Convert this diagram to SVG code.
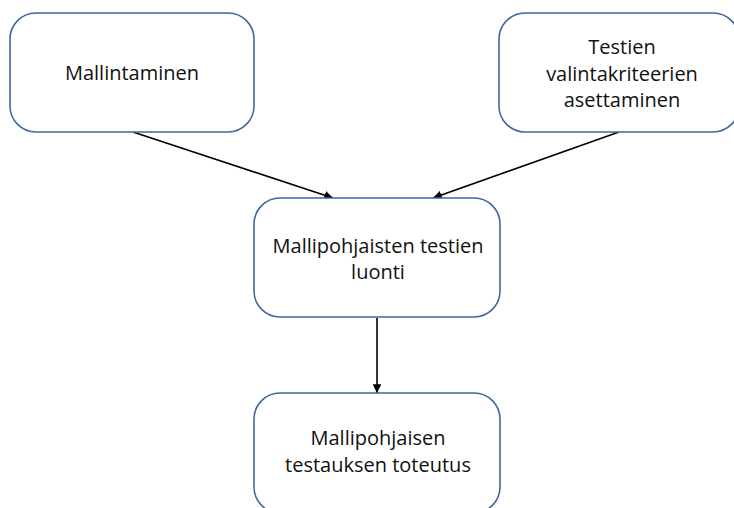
<svg xmlns="http://www.w3.org/2000/svg" width="734" height="508" viewBox="0 0 734 508">
<style>
.box{fill:#fff;stroke:#41679e;stroke-width:1.6}
.t{font-family:"Open Sans","Liberation Sans",sans-serif;font-size:20px;fill:#111;text-anchor:middle}
.c{stroke:#000;stroke-width:1.6;fill:none;marker-end:url(#ah)}
</style>
<defs>
<marker id="ah" viewBox="0 0 10 10" refX="10" refY="5" markerWidth="5.5" markerHeight="5.5" orient="auto" markerUnits="strokeWidth">
<path d="M0,0 L10,5 L0,10 z" fill="#000"/>
</marker>
</defs>
<rect width="734" height="508" fill="#fff"/>
<g id="connectors">
<line class="c" x1="133" y1="132" x2="333" y2="198"/>
<line class="c" x1="619" y1="132" x2="433" y2="198"/>
<line class="c" x1="377" y1="318" x2="377" y2="393"/>
</g>
<g id="n1">
<rect class="box" x="10" y="13" width="244" height="119" rx="26"/>
<text class="t" x="132" y="80">Mallintaminen</text>
</g>
<g id="n2">
<rect class="box" x="499" y="13" width="240" height="119" rx="26"/>
<text class="t" x="622" y="54">Testien</text>
<text class="t" x="622" y="81">valintakriteerien</text>
<text class="t" x="622" y="107">asettaminen</text>
</g>
<g id="n3">
<rect class="box" x="254" y="198" width="246" height="119" rx="26"/>
<text class="t" x="378" y="253">Mallipohjaisten testien</text>
<text class="t" x="378" y="279">luonti</text>
</g>
<g id="n4">
<rect class="box" x="254" y="393" width="246" height="120" rx="26"/>
<text class="t" x="378" y="445">Mallipohjaisen</text>
<text class="t" x="378" y="472">testauksen toteutus</text>
</g>
</svg>
